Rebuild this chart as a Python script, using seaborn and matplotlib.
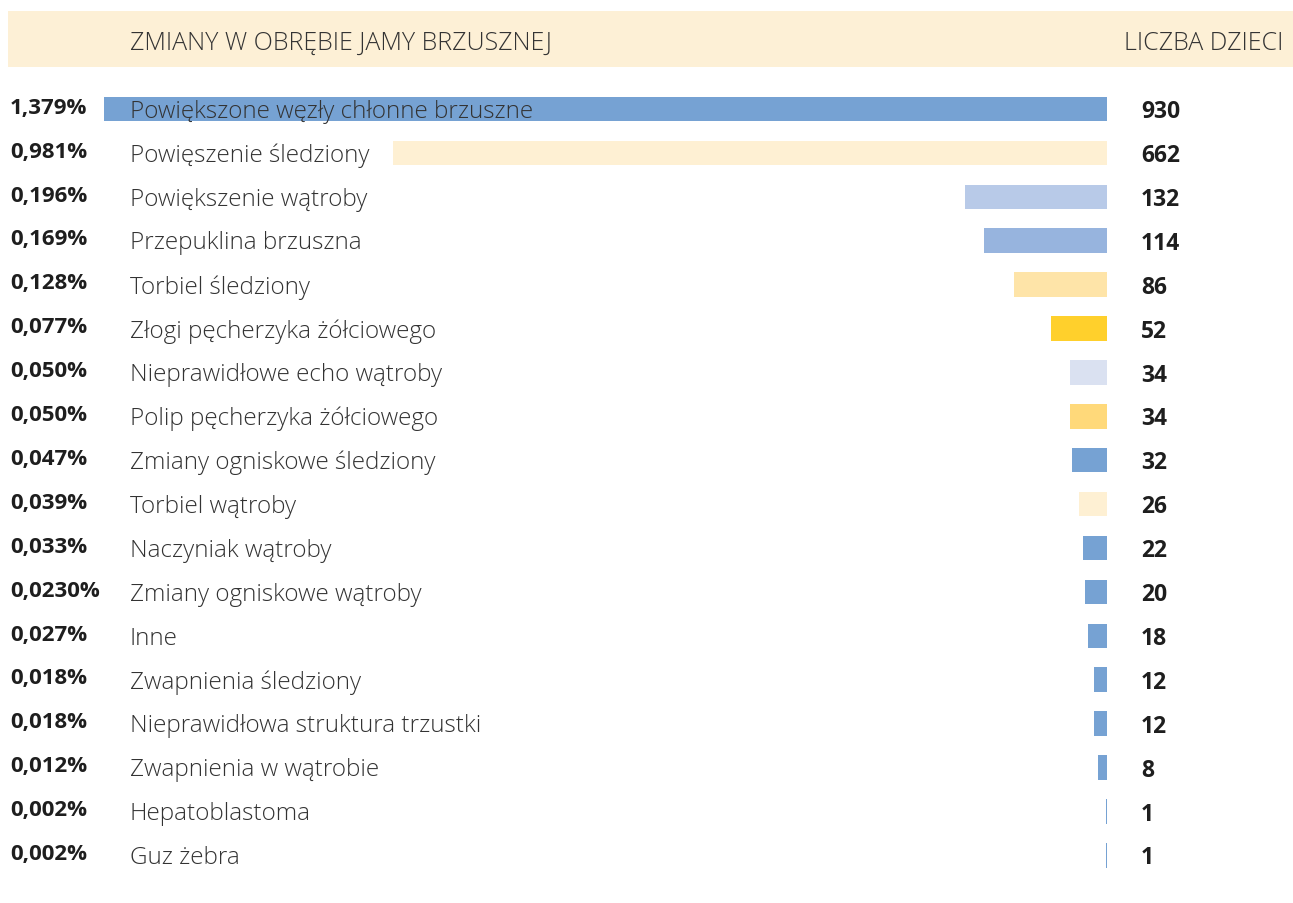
import matplotlib
matplotlib.use("Agg")
import matplotlib.pyplot as plt
import matplotlib.patches as mpatches
from matplotlib.transforms import blended_transform_factory
import seaborn as sns
import pandas as pd

categories = [
    "Powiększone węzły chłonne brzuszne",
    "Powięszenie śledziony",
    "Powiększenie wątroby",
    "Przepuklina brzuszna",
    "Torbiel śledziony",
    "Złogi pęcherzyka żółciowego",
    "Nieprawidłowe echo wątroby",
    "Polip pęcherzyka żółciowego",
    "Zmiany ogniskowe śledziony",
    "Torbiel wątroby",
    "Naczyniak wątroby",
    "Zmiany ogniskowe wątroby",
    "Inne",
    "Zwapnienia śledziony",
    "Nieprawidłowa struktura trzustki",
    "Zwapnienia w wątrobie",
    "Hepatoblastoma",
    "Guz żebra",
]
counts = [930, 662, 132, 114, 86, 52, 34, 34, 32, 26, 22, 20, 18, 12, 12, 8, 1, 1]
percent_labels = [
    "1,379%", "0,981%", "0,196%", "0,169%", "0,128%", "0,077%", "0,050%",
    "0,050%", "0,047%", "0,039%", "0,033%", "0,0230%", "0,027%", "0,018%",
    "0,018%", "0,012%", "0,002%", "0,002%",
]
header_left = "ZMIANY W OBRĘBIE JAMY BRZUSZNEJ"
header_right = "LICZBA DZIECI"

bar_colors = [
    "#76A2D3", "#FEF0D3", "#B8CAE8", "#97B4DE", "#FEE4A8", "#FFD02C",
    "#DAE1F1", "#FFD97A", "#76A2D3", "#FEF0D3", "#76A2D3", "#76A2D3",
    "#76A2D3", "#76A2D3", "#76A2D3", "#76A2D3", "#76A2D3", "#76A2D3",
]

df = pd.DataFrame({"category": categories, "count": counts})

W, H = 1293, 904
fig = plt.figure(figsize=(W / 100, H / 100), dpi=100)
fig.patch.set_facecolor("white")
ax = fig.add_axes([0, 0, 1, 1])

sns.barplot(data=df, y="category", x="count", hue="category",
            palette=dict(zip(categories, bar_colors)), orient="h",
            width=0.56, legend=False, ax=ax, saturation=1)

# geometry (pixels)
x_zero = 1107.0
px_per_unit = (1107.0 - 104.0) / 930.0
row0 = 110.0
row_step = 43.9
ax.set_xlim(x_zero / px_per_unit, -(W - x_zero) / px_per_unit)
ax.set_ylim((H - row0) / row_step, -row0 / row_step)
ax.axis("off")

tr = blended_transform_factory(fig.transFigure, ax.transData)
light = dict(family=["Open Sans", "DejaVu Sans"], fontweight="light", color="#333333")
bold = dict(family=["Open Sans", "DejaVu Sans"], fontweight="bold", color="#1e1e1e")

for i, (cat, cnt, pct) in enumerate(zip(categories, counts, percent_labels)):
    ax.text(10 / W, i - 0.04, pct, transform=tr, ha="left", va="center",
            fontsize=16, zorder=5, **bold)
    ax.text(130 / W, i + 0.04, cat, transform=tr, ha="left", va="center",
            fontsize=17.5, zorder=5, **light)
    ax.text(1141 / W, i + 0.05, str(cnt), transform=tr, ha="left", va="center",
            fontsize=16.5, zorder=5, **bold)

# header band
fig.patches.append(mpatches.Rectangle((8 / W, 1 - 68 / H), 1 - 8 / W, 56 / H,
                                      transform=fig.transFigure,
                                      facecolor="#FDF0D6", edgecolor="none",
                                      zorder=0))
fig.text(130 / W, 1 - 43 / H, header_left, ha="left", va="center",
         fontsize=18, **light)
fig.text(1283 / W, 1 - 43 / H, header_right, ha="right", va="center",
         fontsize=18, **light)

fig.savefig("out.png", dpi=100, facecolor="white")
